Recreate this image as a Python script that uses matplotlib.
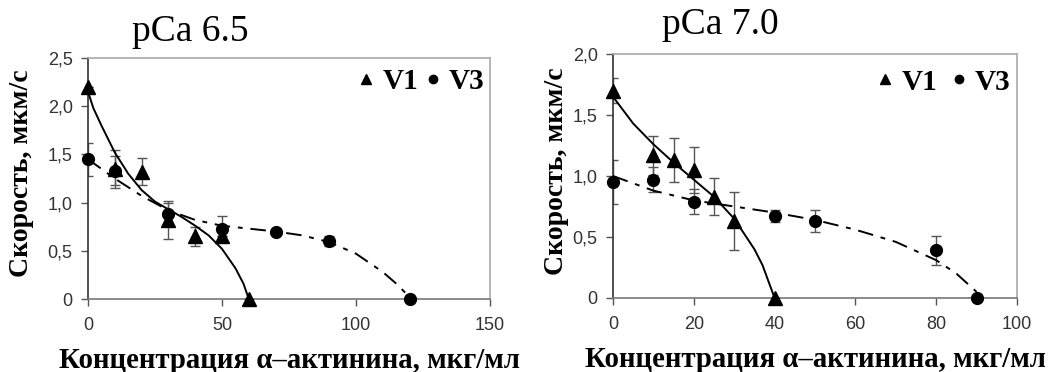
import matplotlib
matplotlib.use("Agg")
import matplotlib.pyplot as plt
from matplotlib.lines import Line2D

# ---- data: pCa 6.5 ----
a_v1_x = [0, 10, 20, 30, 40, 50, 60]
a_v1_y = [2.2, 1.35, 1.32, 0.82, 0.65, 0.65, 0.0]
a_v1_e = [0.0, 0.2, 0.14, 0.2, 0.1, 0.0, 0.0]
a_v3_x = [0, 10, 30, 50, 70, 90, 120]
a_v3_y = [1.45, 1.33, 0.88, 0.73, 0.70, 0.60, 0.0]
a_v3_e = [0.17, 0.15, 0.12, 0.13, 0.0, 0.05, 0.0]
a_fit1_x = [0, 2, 5, 10, 15, 20, 25, 30, 35, 40, 45, 50, 55, 58, 60]
a_fit1_y = [2.15, 1.98, 1.80, 1.52, 1.30, 1.13, 1.01, 0.93, 0.85, 0.76, 0.66, 0.52, 0.32, 0.16, 0.0]
a_fit3_x = [0, 10, 20, 30, 40, 50, 60, 70, 80, 90, 100, 110, 115, 120]
a_fit3_y = [1.45, 1.25, 1.07, 0.92, 0.82, 0.76, 0.73, 0.70, 0.66, 0.59, 0.47, 0.28, 0.16, 0.02]

# ---- data: pCa 7.0 ----
b_v1_x = [0, 10, 15, 20, 25, 30, 40]
b_v1_y = [1.70, 1.17, 1.13, 1.05, 0.83, 0.63, 0.0]
b_v1_e = [0.1, 0.16, 0.18, 0.19, 0.15, 0.24, 0.0]
b_v3_x = [0, 10, 20, 40, 50, 80, 90]
b_v3_y = [0.95, 0.97, 0.79, 0.67, 0.63, 0.39, 0.0]
b_v3_e = [0.18, 0.1, 0.1, 0.05, 0.09, 0.12, 0.0]
b_fit1_x = [0, 5, 10, 15, 20, 25, 30, 33, 35, 37, 40]
b_fit1_y = [1.65, 1.43, 1.26, 1.11, 0.97, 0.83, 0.65, 0.50, 0.40, 0.27, 0.0]
b_fit3_x = [0, 10, 20, 30, 40, 50, 60, 70, 80, 85, 90]
b_fit3_y = [1.0, 0.88, 0.80, 0.75, 0.70, 0.64, 0.56, 0.46, 0.31, 0.20, 0.05]

a_xticks = [0, 50, 100, 150]
a_yticks = [0, 0.5, 1.0, 1.5, 2.0, 2.5]
a_ylabels = ["0", "0,5", "1,0", "1,5", "2,0", "2,5"]
b_xticks = [0, 20, 40, 60, 80, 100]
b_yticks = [0, 0.5, 1.0, 1.5, 2.0]
b_ylabels = ["0", "0,5", "1,0", "1,5", "2,0"]

titles = ["pCa 6.5", "pCa 7.0"]
ylabel = "Скорость, мкм/с"
xlabel = "Концентрация α–актинина, мкг/мл"

serif = "Liberation Serif"
sans = "Liberation Sans"

fig = plt.figure(figsize=(10.51, 3.72), dpi=100)
axA = fig.add_axes([88/1051, 73/372, 402/1051, 241/372])
axB = fig.add_axes([613/1051, 74/372, 404/1051, 244/372])

dash = (0, (8, 4, 2.5, 4))

def draw(ax, v1x, v1y, v1e, v3x, v3y, v3e, f1x, f1y, f3x, f3y,
         xlim, ylim, xt, yt, ytl, title, title_x, title_y, ylab_x, legsep, leg_anchor):
    ax.plot(f1x, f1y, color="black", lw=1.4, zorder=3)
    ax.plot(f3x, f3y, color="black", lw=1.4, linestyle=dash, zorder=3)
    ax.errorbar(v1x, v1y, yerr=v1e, fmt="none", ecolor="#555555", elinewidth=1.0,
                capsize=3.5, capthick=1.0, zorder=2)
    ax.errorbar(v3x, v3y, yerr=v3e, fmt="none", ecolor="#555555", elinewidth=1.0,
                capsize=3.5, capthick=1.0, zorder=2)
    ax.plot(v1x, v1y, linestyle="none", marker="^", ms=10, color="black", zorder=4, clip_on=False)
    ax.plot(v3x, v3y, linestyle="none", marker="o", ms=8.5, color="black", zorder=4, clip_on=False)
    ax.set_xlim(*xlim)
    ax.set_ylim(*ylim)
    ax.set_xticks(xt)
    ax.set_xticklabels([str(v) for v in xt])
    ax.set_yticks(yt)
    ax.set_yticklabels(ytl)
    for lab in ax.get_xticklabels() + ax.get_yticklabels():
        lab.set_fontfamily(sans)
        lab.set_fontsize(13)
        lab.set_color("#333333")
    ax.tick_params(axis="both", direction="out", length=5, width=1.0, color="#555555")
    ax.tick_params(axis="x", pad=8)
    ax.tick_params(axis="y", pad=6)
    ax.spines["left"].set_color("#333333")
    ax.spines["bottom"].set_color("#777777")
    ax.spines["top"].set_color("#aaaaaa")
    ax.spines["right"].set_color("#aaaaaa")
    for s in ax.spines.values():
        s.set_linewidth(1.2)
    fig.text(title_x, title_y, title, fontfamily=serif, fontsize=27, ha="center", va="center")
    ax.set_xlabel(xlabel, fontfamily=serif, fontweight="bold", fontsize=20.7, labelpad=9)
    ax.set_ylabel(ylabel, fontfamily=serif, fontweight="bold", fontsize=20)
    ax.yaxis.set_label_coords(ylab_x, 0.52)
    handles = [Line2D([], [], linestyle="none", marker="^", ms=7, color="black"),
               Line2D([], [], linestyle="none", marker="o", ms=6, color="black")]
    ax.legend(handles, ["V1", "V3"], ncol=2, loc="upper right", frameon=False,
              prop={"family": serif, "weight": "bold", "size": 21},
              handlelength=0.6, handletextpad=0.25, columnspacing=legsep,
              borderaxespad=0.1, bbox_to_anchor=leg_anchor)

draw(axA, a_v1_x, a_v1_y, a_v1_e, a_v3_x, a_v3_y, a_v3_e,
     a_fit1_x, a_fit1_y, a_fit3_x, a_fit3_y,
     (0, 150), (0, 2.5), a_xticks, a_yticks, a_ylabels,
     titles[0], 190/1051, 1 - 32/372, -0.135, 0.2, (1.022, 1.02))
draw(axB, b_v1_x, b_v1_y, b_v1_e, b_v3_x, b_v3_y, b_v3_e,
     b_fit1_x, b_fit1_y, b_fit3_x, b_fit3_y,
     (0, 100), (0, 2.0), b_xticks, b_yticks, b_ylabels,
     titles[1], 720/1051, 1 - 25/372, -0.108, 0.45, (1.02, 1.0))

fig.savefig("out.png", dpi=100)
